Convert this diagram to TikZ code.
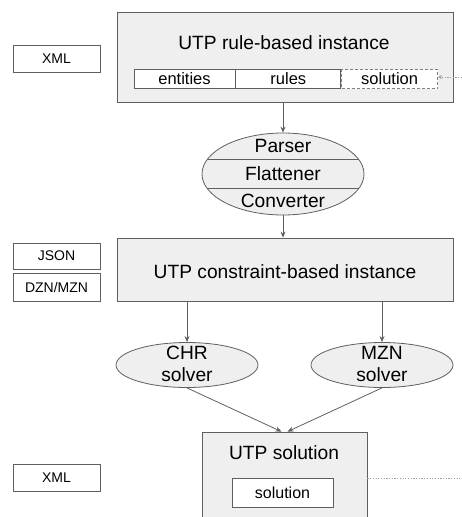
\documentclass[tikz,border=0pt]{standalone}
\usepackage{fontspec}
\setmainfont{Liberation Sans}
\usetikzlibrary{shapes.geometric,arrows.meta,positioning}
\definecolor{linegray}{RGB}{95,95,95}
\definecolor{boxgray}{RGB}{239,239,239}
\definecolor{dotgray}{RGB}{160,160,160}
\newcommand{\bigfont}{\fontsize{19.2}{22}\selectfont}
\newcommand{\cellfont}{\fontsize{16.5}{19}\selectfont}
\newcommand{\fmtfont}{\fontsize{14}{16}\selectfont}
\tikzset{
  panel/.style={rectangle, draw=linegray, fill=boxgray, line width=0.8pt, inner sep=0pt},
  cell/.style={rectangle, draw=linegray, fill=white, line width=0.8pt, inner sep=0pt, minimum height=19pt, font=\cellfont},
  fmtbox/.style={rectangle, draw=linegray, fill=white, line width=0.8pt, minimum width=87pt, inner sep=0pt, font=\fmtfont},
  stage/.style={ellipse, draw=linegray, fill=boxgray, line width=0.8pt, inner sep=0pt},
  title/.style={inner sep=0pt, font=\bigfont, align=center},
  arrow/.style={-{Stealth[length=6pt,width=5pt]}, draw=linegray, line width=0.8pt},
  dotline/.style={draw=dotgray, line width=0.8pt, dash pattern=on 1.2pt off 1.5pt},
}

\begin{document}
\begin{tikzpicture}[x=1pt, y=-1pt]
  \clip (0,0) rectangle (462,517);

  % Rule-based instance
  \node[panel, minimum width=336pt, minimum height=90pt] (rulebased) at (285,57) {};
  \node[title] (rbtitle) at (284,43) {UTP rule-based instance};
  \node[cell, minimum width=101pt] (entities) at (184.5,79) {entities};
  \node[cell, minimum width=105pt, right=0pt of entities] (rules) {rules};
  \node[cell, minimum width=96pt, right=0pt of rules, dash pattern=on 3pt off 2pt, draw=dotgray!80!black] (solin) {solution};

  % Processing stages
  \node[stage, minimum width=162pt, minimum height=82pt] (proc) at (283,174) {};
  \begin{scope}
    \clip (proc.center) ellipse (81pt and 41pt);
    \draw[linegray, line width=0.8pt] (190,159) -- (380,159);
    \draw[linegray, line width=0.8pt] (190,188) -- (380,188);
  \end{scope}
  \node[title] (parser) at (283,146) {Parser};
  \node[title] (flattener) at (283,174) {Flattener};
  \node[title] (converter) at (283,201) {Converter};

  % Constraint-based instance
  \node[panel, minimum width=336pt, minimum height=63pt] (cbased) at (285,269.5) {};
  \node[title] (cbtitle) at (285,272) {UTP constraint-based instance};

  % Solvers
  \node[stage, minimum width=142pt, minimum height=45pt] (chr) at (187,365) {};
  \node[title] (chrtext) at (187,364) {CHR\\solver};
  \node[stage, minimum width=142pt, minimum height=45pt] (mzn) at (382,365) {};
  \node[title] (mzntext) at (382,364) {MZN\\solver};

  % Solution
  \node[panel, minimum width=165pt, minimum height=108pt] (sol) at (284.5,486) {};
  \node[title] (soltitle) at (284,453) {UTP solution};
  \node[cell, minimum width=101pt, minimum height=29pt, font=\fontsize{16}{19}\selectfont] (solout) at (282.5,492.5) {solution};

  % Formats
  \node[fmtbox, minimum height=27pt] (xmlin) at (56.5,58.5) {XML};
  \node[fmtbox, minimum height=26pt] (json) at (56.5,256) {JSON};
  \node[fmtbox, minimum height=28pt] (dzn) at (56.5,287) {DZN/MZN};
  \node[fmtbox, minimum height=27pt] (xmlout) at (56.5,477.5) {XML};

  % Connections
  \draw[arrow] (rulebased.south -| proc.north) -- (proc.north);
  \draw[arrow] (proc.south) -- (proc.south |- cbased.north);
  \draw[arrow] (cbased.south -| chr.north) -- (chr.north);
  \draw[arrow] (cbased.south -| mzn.north) -- (mzn.north);
  \draw[arrow] (chr.south) -- ([xshift=-3pt]sol.north);
  \draw[arrow] (mzn.south) -- ([xshift=3pt]sol.north);

  % Dotted links
  \coordinate (inlink) at (462,77);
  \coordinate (outlink) at (462,478);
  \draw[dotline, -{Stealth[length=4pt,width=4pt]}] (inlink) -- (inlink -| solin.east);
  \draw[dotline] (outlink -| sol.east) -- (outlink);
\end{tikzpicture}
\end{document}
